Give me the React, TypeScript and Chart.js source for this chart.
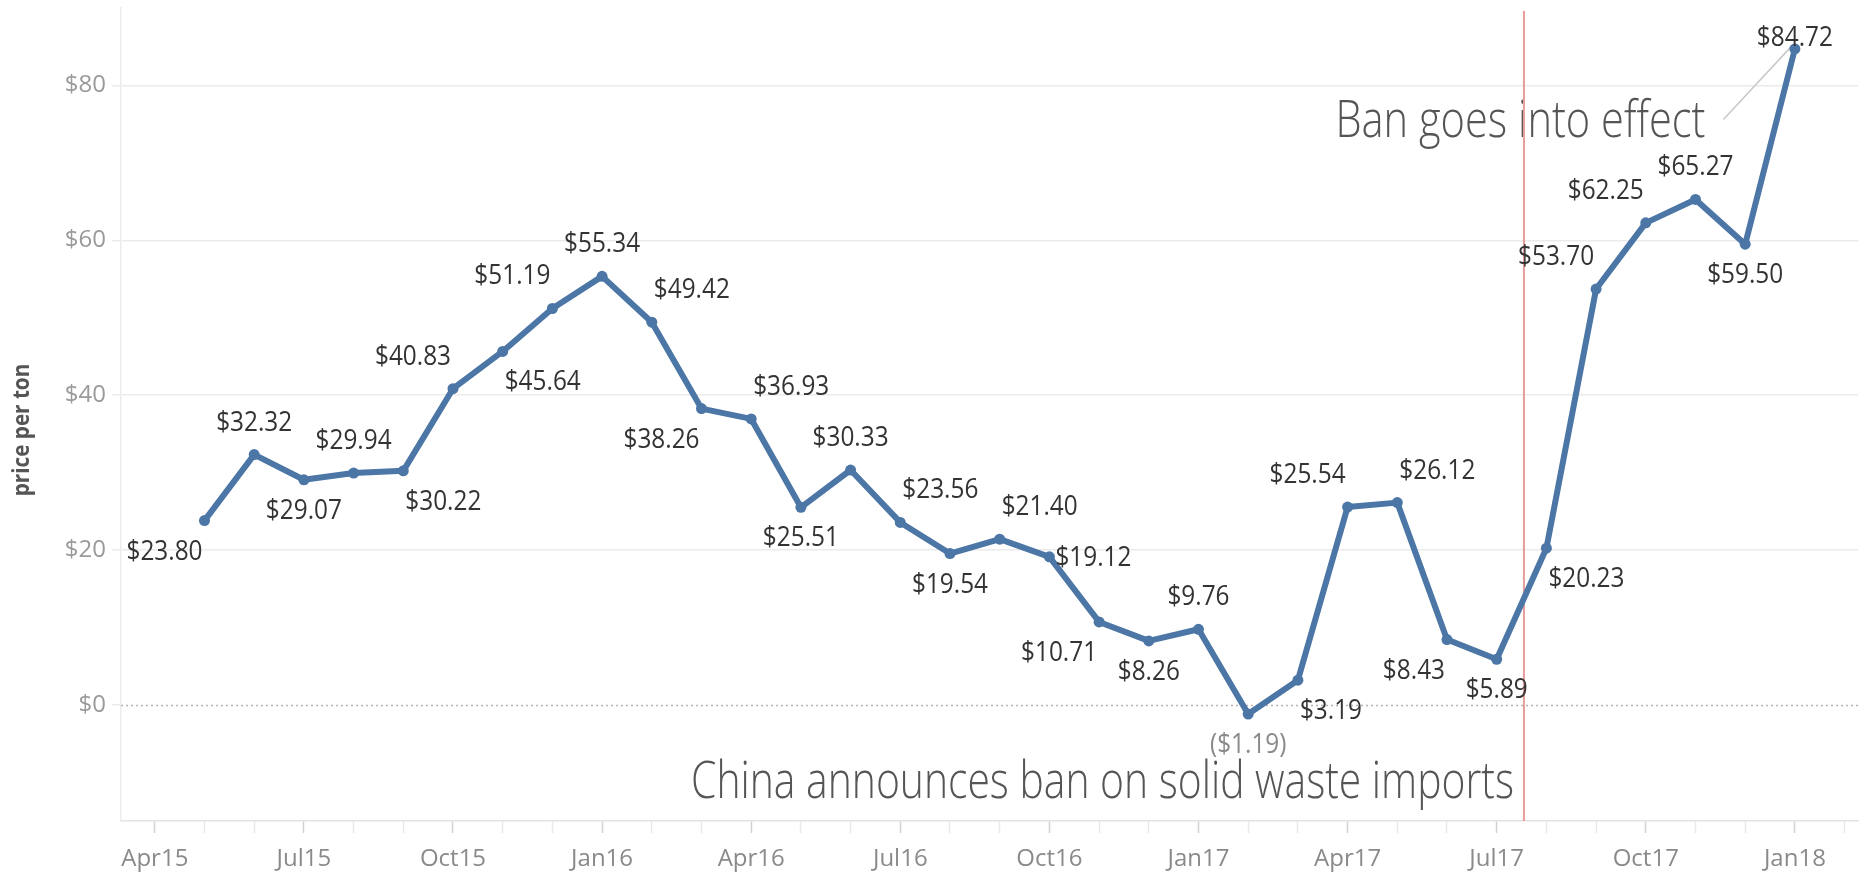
import React, { useEffect, useRef } from "react";
import { Chart, registerables } from "chart.js";

Chart.register(...registerables);

// ---- data ----
const tickMonths = [
  "Apr15", "May15", "Jun15", "Jul15", "Aug15", "Sep15", "Oct15", "Nov15", "Dec15",
  "Jan16", "Feb16", "Mar16", "Apr16", "May16", "Jun16", "Jul16", "Aug16", "Sep16", "Oct16", "Nov16", "Dec16",
  "Jan17", "Feb17", "Mar17", "Apr17", "May17", "Jun17", "Jul17", "Aug17", "Sep17", "Oct17", "Nov17", "Dec17",
  "Jan18", "Feb18",
];

const months = [
  "May15", "Jun15", "Jul15", "Aug15", "Sep15", "Oct15", "Nov15", "Dec15",
  "Jan16", "Feb16", "Mar16", "Apr16", "May16", "Jun16", "Jul16", "Aug16", "Sep16", "Oct16", "Nov16", "Dec16",
  "Jan17", "Feb17", "Mar17", "Apr17", "May17", "Jun17", "Jul17", "Aug17", "Sep17", "Oct17", "Nov17", "Dec17",
  "Jan18",
];

const prices = [
  23.8, 32.32, 29.07, 29.94, 30.22, 40.83, 45.64, 51.19,
  55.34, 49.42, 38.26, 36.93, 25.51, 30.33, 23.56, 19.54, 21.4, 19.12, 10.71, 8.26,
  9.76, -1.19, 3.19, 25.54, 26.12, 8.43, 5.89, 20.23, 53.7, 62.25, 65.27, 59.5,
  84.72,
];

// label placement per point (a=above, b=below, l/r=left/right, t=tight above)
const labelPlacement = [
  "bl", "a", "b", "a", "br", "al", "br", "al",
  "a", "ar", "bl", "ar", "b", "a", "ar", "b", "ar", "r", "bl", "b",
  "a", "b", "br", "al", "ar", "bl", "b", "br", "al", "al", "a", "b",
  "t",
];

const yTicks = [0, 20, 40, 60, 80];

const announceMonth = "Jul17";
const announceDayFraction = 17 / 31;
const announceText = "China announces ban on solid waste imports";
const effectText = "Ban goes into effect";
const effectTextPos = { x: 31.2, y: 73.4 };
const announceTextY = -12.0;
const yTitle = "price per ton";

// ---- styles ----
const LINE_COLOR = "#4b76a5";
const FONT = "'Open Sans', 'Noto Sans', sans-serif";

const placementOffsets: Record<string, [number, number, CanvasTextAlign]> = {
  a: [0, -32, "center"],
  b: [0, 31, "center"],
  al: [-2, -32, "right"],
  ar: [2, -32, "left"],
  bl: [-2, 31, "right"],
  br: [2, 31, "left"],
  r: [6, 1, "left"],
  t: [0, -11, "center"],
};

function fmt(v: number) {
  return v < 0 ? `($${Math.abs(v).toFixed(2)})` : `$${v.toFixed(2)}`;
}

function drawCondensed(
  ctx: CanvasRenderingContext2D,
  text: string,
  x: number,
  y: number,
  align: CanvasTextAlign,
  sx: number
) {
  ctx.save();
  ctx.translate(x, y);
  ctx.scale(sx, 1);
  ctx.textAlign = align;
  ctx.fillText(text, 0, 0);
  ctx.restore();
}

const annotationPlugin = {
  id: "annotations",
  beforeDatasetsDraw(chart: any) {
    const { ctx, chartArea, scales } = chart;
    const x = scales.x;
    const y = scales.y;

    // dotted zero line
    ctx.save();
    ctx.strokeStyle = "#b3b3b3";
    ctx.lineWidth = 1.5;
    ctx.setLineDash([2, 3]);
    const y0 = Math.round(y.getPixelForValue(0)) + 0.5;
    ctx.beginPath();
    ctx.moveTo(chartArea.left, y0);
    ctx.lineTo(chartArea.right, y0);
    ctx.stroke();
    ctx.restore();

    // y axis title
    ctx.save();
    ctx.fillStyle = "#555";
    ctx.font = `bold 23px ${FONT}`;
    ctx.textBaseline = "middle";
    ctx.translate(22, 430);
    ctx.rotate(-Math.PI / 2);
    drawCondensed(ctx, yTitle, 0, 0, "center", 0.9);
    ctx.restore();

    const redX = x.getPixelForValue(tickMonths.indexOf(announceMonth) + announceDayFraction);

    // annotation texts
    ctx.save();
    ctx.fillStyle = "#555";
    ctx.font = `300 52px ${FONT}`;
    ctx.textBaseline = "alphabetic";
    drawCondensed(ctx, announceText, redX - 10, y.getPixelForValue(announceTextY), "right", 0.785);
    drawCondensed(
      ctx,
      effectText,
      x.getPixelForValue(effectTextPos.x),
      y.getPixelForValue(effectTextPos.y),
      "right",
      0.8
    );
    ctx.restore();

    // red vertical line
    ctx.save();
    ctx.strokeStyle = "#e79b9b";
    ctx.lineWidth = 2;
    ctx.beginPath();
    ctx.moveTo(redX, chartArea.top + 3);
    ctx.lineTo(redX, chartArea.bottom);
    ctx.stroke();
    ctx.restore();

    // leader line from "Ban goes into effect" to last point
    const meta = chart.getDatasetMeta(0);
    const last = meta.data[meta.data.length - 1];
    const tx = x.getPixelForValue(effectTextPos.x) + 18;
    const ty = y.getPixelForValue(effectTextPos.y) - 17;
    ctx.save();
    ctx.strokeStyle = "#c8c8c8";
    ctx.lineWidth = 1.5;
    ctx.beginPath();
    ctx.moveTo(tx, ty);
    ctx.lineTo(last.x - 3, last.y - 3);
    ctx.stroke();
    ctx.restore();
  },
  afterDatasetsDraw(chart: any) {
    const { ctx } = chart;
    const meta = chart.getDatasetMeta(0);
    ctx.save();
    ctx.font = `28px ${FONT}`;
    ctx.textBaseline = "middle";
    meta.data.forEach((pt: any, i: number) => {
      const v = prices[i];
      const [dx, dy, align] = placementOffsets[labelPlacement[i]];
      ctx.fillStyle = v < 0 ? "#8a8a8a" : "#333";
      drawCondensed(ctx, fmt(v), pt.x + dx, pt.y + dy, align, 0.87);
    });
    ctx.restore();
  },
};

export default function App() {
  const ref = useRef<HTMLCanvasElement | null>(null);

  useEffect(() => {
    if (!ref.current) return;
    const chart = new Chart(ref.current, {
      type: "line",
      data: {
        datasets: [
          {
            label: "price per ton",
            data: months.map((m, i) => ({ x: tickMonths.indexOf(m), y: prices[i] })),
            borderColor: LINE_COLOR,
            backgroundColor: LINE_COLOR,
            borderWidth: 6,
            pointRadius: 5.5,
            pointBorderWidth: 0,
            pointBackgroundColor: LINE_COLOR,
            tension: 0,
            borderJoinStyle: "round",
            borderCapStyle: "round",
          },
        ],
      },
      options: {
        animation: false,
        responsive: false,
        layout: { padding: { top: 8, right: 1, left: 0, bottom: 0 } },
        plugins: {
          legend: { display: false },
          tooltip: { enabled: false },
        },
        scales: {
          x: {
            type: "linear",
            min: -0.68,
            max: 34.28,
            afterBuildTicks: (axis: any) => {
              axis.ticks = tickMonths.map((_, i) => ({ value: i }));
            },
            afterFit: (axis: any) => {
              axis.height = 57;
              axis.paddingLeft = 0;
              axis.paddingRight = 0;
            },
            grid: {
              drawOnChartArea: false,
              drawTicks: true,
              tickLength: 12,
              tickWidth: 1.5,
              tickColor: (c: any) =>
                c.tick && Math.round(c.tick.value) % 3 === 0 ? "#d2d2d2" : "#e9e9e9",
            },
            border: { display: true, color: "#e3e3e3", width: 1.5 },
            ticks: {
              autoSkip: false,
              maxRotation: 0,
              padding: 12,
              color: "#8a8a8a",
              font: { family: FONT, size: 24 },
              callback: (v: any) => {
                const i = Math.round(Number(v));
                return i % 3 === 0 ? tickMonths[i] : "";
              },
            },
          },
          y: {
            type: "linear",
            min: -15,
            max: 90,
            afterBuildTicks: (axis: any) => {
              axis.ticks = yTicks.map((v) => ({ value: v }));
            },
            afterFit: (axis: any) => {
              axis.width = 121;
              axis.paddingTop = 0;
              axis.paddingBottom = 0;
            },
            grid: {
              color: (c: any) => (c.tick && c.tick.value === 0 ? "rgba(0,0,0,0)" : "#ebebeb"),
              lineWidth: 1.5,
              tickLength: 9,
              tickColor: "#ebebeb",
            },
            border: { display: true, color: "#ececec", width: 1.5 },
            ticks: {
              padding: 6,
              color: "#9a9a9a",
              font: { family: FONT, size: 24 },
              callback: (v: any) => `$${v}`,
            },
          },
        },
      },
      plugins: [annotationPlugin],
    });
    return () => chart.destroy();
  }, []);

  return (
    <div style={{ position: "fixed", left: 0, top: 0, width: 1864, height: 878, background: "#fff" }}>
      <canvas ref={ref} width={1864} height={878} style={{ display: "block" }} />
    </div>
  );
}
